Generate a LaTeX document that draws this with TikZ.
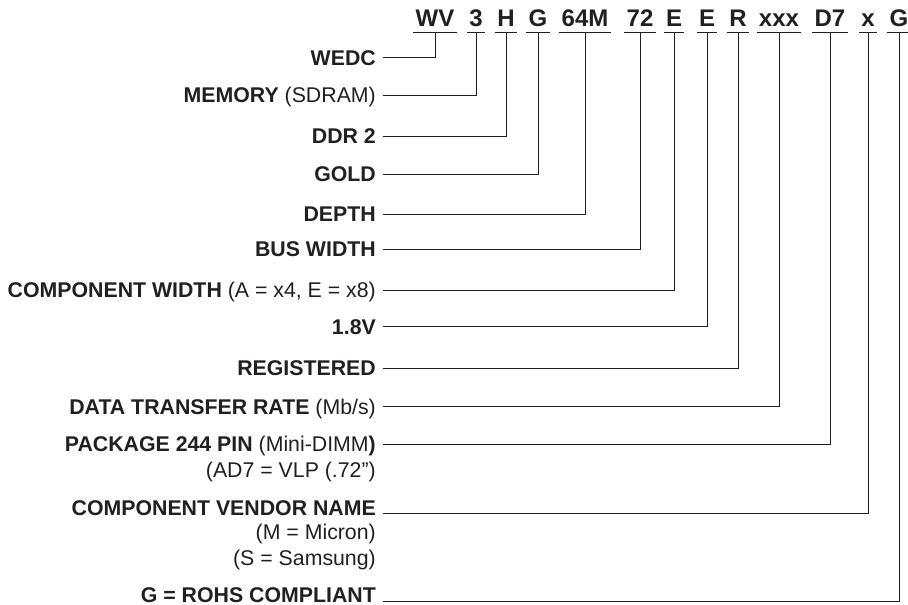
\documentclass[tikz,border=0pt]{standalone}
\usepackage{fontspec}
\setmainfont{Liberation Sans}
\definecolor{ink}{HTML}{231F20}
\begin{document}
\begin{tikzpicture}[x=1pt,y=-1pt,
  code/.style={font=\fontsize{24}{28}\selectfont\bfseries, text=ink, inner xsep=2pt, inner ysep=5pt, text depth=0pt, anchor=base},
  lab/.style={font=\fontsize{21.3}{25}\selectfont, text=ink, inner sep=0pt, anchor=base east},
  wire/.style={draw=ink, line width=1pt},
  uline/.style={draw=ink, line width=1pt}]
\useasboundingbox (0,0) rectangle (908,605);
% codes
\foreach \n/\t/\x in {cWV/WV/435, c3/3/476, cH/H/506, cG/G/538, c64M/64M/585, c72/72/640, cE1/E/674, cE2/E/707, cR/R/738, cxxx/xxx/779, cD7/D7/830, cx/x/868, cG2/G/899}{
  \node[code] (\n) at (\x,27) {\t};
  \draw[uline] (\n.south west) -- (\n.south east);
}
% labels
\node[lab] (l1) at (376,65.2) {\textbf{WEDC}};
\node[lab] (l2) at (376,102.5) {\textbf{MEMORY} (SDRAM)};
\node[lab] (l3) at (376,143.5) {\textbf{DDR 2}};
\node[lab] (l4) at (376,181.8) {\textbf{GOLD}};
\node[lab] (l5) at (376,221.8) {\textbf{DEPTH}};
\node[lab] (l6) at (376,256.8) {\textbf{BUS WIDTH}};
\node[lab] (l7) at (376,297.5) {\textbf{COMPONENT WIDTH} (A = x4, E = x8)};
\node[lab] (l8) at (376,334.2) {\textbf{1.8V}};
\node[lab] (l9) at (376,375.8) {\textbf{REGISTERED}};
\node[lab] (l10) at (376,414.2) {\textbf{DATA TRANSFER RATE} (Mb/s)};
\node[lab] (l11) at (376,451.8) {\textbf{PACKAGE 244 PIN} (Mini-DIMM\textbf{)}};
\node[lab] (l11b) at (376,477) {(AD7 = VLP (.72”)};
\node[lab] (l12) at (376,515) {\textbf{COMPONENT VENDOR NAME}};
\node[lab] (l12b) at (376,539.5) {(M = Micron)};
\node[lab] (l12c) at (376,565) {(S = Samsung)};
\node[lab] (l13) at (376,602.3) {\textbf{G = ROHS COMPLIANT}};
% connectors
\foreach \l/\c in {l1/cWV, l2/c3, l3/cH, l4/cG, l5/c64M, l6/c72, l7/cE1, l8/cE2, l9/cR, l10/cxxx, l11/cD7}{
  \draw[wire] ([shift={(7pt,7.5pt)}]\l.base east) -| (\c.south);
}
\draw[wire] ([shift={(7pt,2pt)}]l12.base east) -| (cx.south);
\draw[wire] ([shift={(7pt,0.8pt)}]l13.base east) -| (cG2.south);
\end{tikzpicture}
\end{document}
